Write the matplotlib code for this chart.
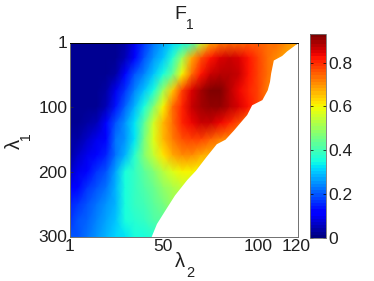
import matplotlib
matplotlib.use('Agg')
import matplotlib.pyplot as plt
import numpy as np

plt.rcParams['font.family'] = ['Liberation Sans', 'DejaVu Sans']

# Grid of the heat map
lambda2 = [1, 5, 10, 15, 20, 25, 30, 35, 40, 45, 50, 55, 60, 65, 70, 75, 80, 85, 90, 95, 100, 105, 110, 115, 121]
lambda1 = [1, 25, 50, 75, 100, 125, 150, 175, 200, 225, 250, 275, 300]

row_1 = [.02, .02, .02, .02, .02, .02, .04, .10, .16, .22, .27, .31, .34, .38, .55, .68, .72, .73, .74, .75, .75, .74, .73, .71, .67]
row_25 = [.02, .02, .02, .02, .02, .02, .05, .13, .20, .25, .30, .37, .50, .68, .77, .82, .85, .87, .85, .82, .78, .74, .70, .68, .66]
row_50 = [.02, .02, .02, .02, .02, .04, .13, .19, .24, .30, .35, .45, .60, .74, .82, .86, .88, .88, .86, .82, .78, .73, .70, .68, .66]
row_75 = [.02, .02, .02, .02, .03, .10, .17, .24, .30, .36, .50, .65, .78, .85, .90, .92, .92, .88, .84, .81, .78, .72, .70, .68, .66]
row_100 = [.02, .02, .02, .02, .05, .14, .21, .28, .35, .47, .60, .73, .80, .86, .90, .91, .91, .88, .85, .82, .78, .72, .70, .68, .66]
row_125 = [.02, .02, .03, .05, .12, .20, .25, .32, .43, .56, .66, .74, .80, .84, .86, .86, .84, .80, .76, .72, .70, .68, .66, .66, .66]
row_150 = [.03, .04, .06, .10, .13, .22, .26, .33, .46, .58, .66, .72, .76, .78, .78, .75, .72, .70, .68, .66, .66, .66, .66, .66, .66]
row_175 = [.04, .06, .09, .12, .15, .22, .28, .37, .47, .55, .62, .67, .70, .71, .68, .66, .66, .66, .66, .66, .66, .66, .66, .66, .66]
row_200 = [.07, .10, .12, .16, .20, .27, .35, .39, .43, .47, .53, .58, .60, .60, .60, .60, .60, .60, .60, .60, .60, .60, .60, .60, .60]
row_225 = [.11, .13, .16, .19, .23, .29, .36, .39, .42, .45, .49, .52, .55, .55, .55, .55, .55, .55, .55, .55, .55, .55, .55, .55, .55]
row_250 = [.15, .17, .19, .22, .25, .29, .36, .38, .40, .43, .46, .50, .50, .50, .50, .50, .50, .50, .50, .50, .50, .50, .50, .50, .50]
row_275 = [.17, .19, .21, .24, .27, .30, .35, .37, .39, .41, .43, .46, .46, .46, .46, .46, .46, .46, .46, .46, .46, .46, .46, .46, .46]
row_300 = [.19, .20, .22, .25, .28, .31, .33, .35, .36, .37, .38, .40, .40, .40, .40, .40, .40, .40, .40, .40, .40, .40, .40, .40, .40]

# Right hand edge of the valid region (white beyond it)
edge_l1 = [1, 14, 21, 28, 48, 61, 74, 89, 97, 112, 136, 150, 157, 177, 198, 212, 236, 259, 280, 300]
edge_l2 = [121, 115, 112.4, 108, 106.6, 106, 104.8, 102, 96.6, 94, 87, 82.6, 78, 72.5, 67, 62.5, 56, 51, 46.5, 43.7]

x_ticks = [1, 50, 100, 120]
y_ticks = [1, 100, 200, 300]
cbar_ticks = [0, 0.2, 0.4, 0.6, 0.8]
cbar_labels = ['0', '0.2', '0.4', '0.6', '0.8']

F1 = np.array([row_1, row_25, row_50, row_75, row_100, row_125, row_150,
               row_175, row_200, row_225, row_250, row_275, row_300])

W, H = 374, 281
fig = plt.figure(figsize=(W / 100, H / 100), dpi=100)
ax = fig.add_axes([70 / W, 1 - 236.5 / H, 228 / W, 194 / H])

cmap = plt.get_cmap('jet', 64)
mesh = ax.pcolormesh(lambda2, lambda1, F1, cmap=cmap, vmin=0, vmax=0.93, shading='gouraud')
ax.fill_betweenx(edge_l1, edge_l2, 121, color='white', lw=0, zorder=2)

ax.set_xlim(1, 121)
ax.set_ylim(300, 1)
ax.set_xticks(x_ticks)
ax.set_yticks(y_ticks)
ax.tick_params(direction='in', length=2, width=0.5, labelsize=12.5, pad=2,
               color='#303030', labelcolor='#202020', top=True, right=True)
for name, spine in ax.spines.items():
    spine.set_linewidth(0.7)
    spine.set_color('#000000' if name == 'top' else '#707070')
    spine.set_zorder(5)


def label(x, y, s, size, **kw):
    # positions given in pixels from the top left corner
    fig.text(x / W, 1 - y / H, s, fontsize=size, ha='center', color='#202020', **kw)


label(180, 19, 'F', 14, va='baseline')
label(189.5, 29, '1', 10, va='baseline')
label(179.5, 267, 'λ', 14.5, va='baseline')
label(190, 277, '2', 10.5, va='baseline')
label(14, 144, 'λ', 14.5, va='center', rotation=90)
label(26, 136, '1', 10, va='center', rotation=90)

cax = fig.add_axes([309.5 / W, 1 - 238 / H, 16.5 / W, 204 / H])
cbar = fig.colorbar(mesh, cax=cax, ticks=cbar_ticks)
cbar.ax.set_yticklabels(cbar_labels)
cbar.ax.tick_params(direction='in', length=2, width=0.5, labelsize=12.5, pad=2,
                    labelcolor='#202020', left=True)
cbar.outline.set_linewidth(0.6)
cbar.outline.set_edgecolor('#707070')

fig.savefig('out.png', dpi=100)
